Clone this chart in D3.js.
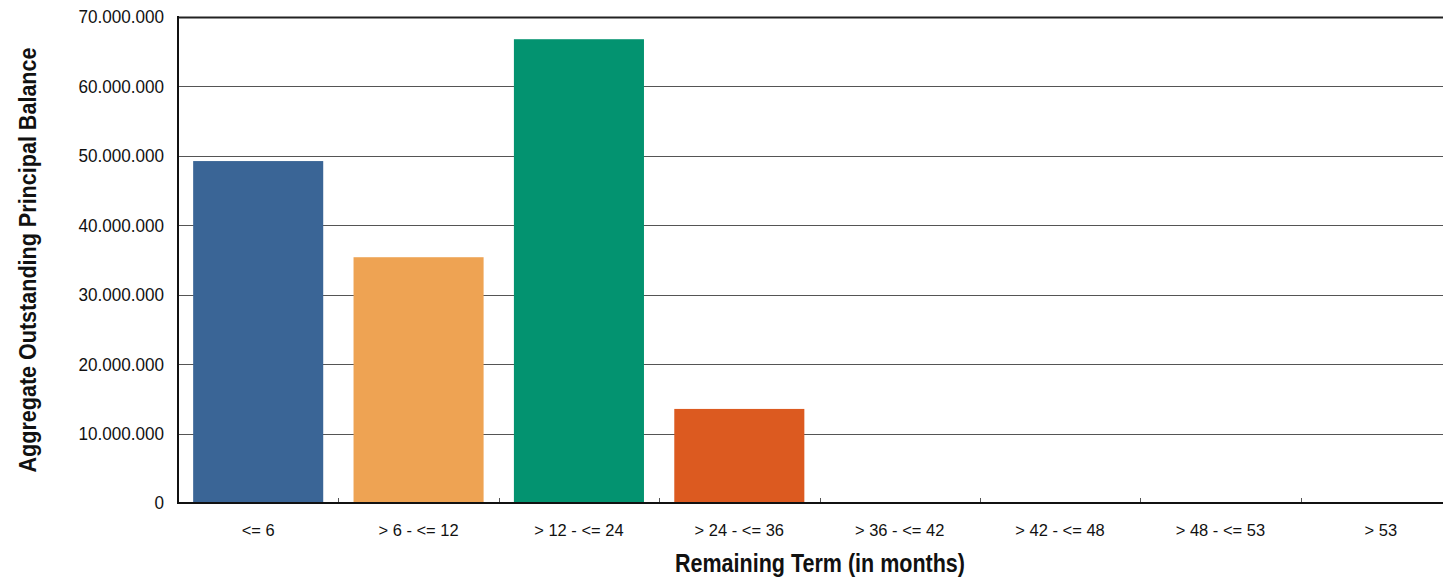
<!DOCTYPE html>
<html><head><meta charset="utf-8">
<script src="https://cdn.jsdelivr.net/npm/d3@7"></script>
<style>body{margin:0;background:#fff}svg{display:block}</style>
</head><body>
<svg id="c" width="1443" height="578"></svg>
<script>
const categories = ["<= 6", "> 6 - <= 12", "> 12 - <= 24", "> 24 - <= 36", "> 36 - <= 42", "> 42 - <= 48", "> 48 - <= 53", "> 53"];
const values = [49250000, 35400000, 66800000, 13550000, 0, 0, 0, 0];
const colors = ["#3a6596", "#eea353", "#039370", "#dc5a20", "#3a6596", "#3a6596", "#3a6596", "#3a6596"];
const yTicks = [0, 10000000, 20000000, 30000000, 40000000, 50000000, 60000000, 70000000];
const xTitle = "Remaining Term (in months)";
const yTitle = "Aggregate Outstanding Principal Balance";

const svg = d3.select("#c");
const m = {l: 178, r: 1461, t: 17, b: 503};
const xb = d3.scaleBand().domain(categories).range([m.l, m.r]);
const x = d3.scaleBand().domain(categories).range([m.l, m.r]).paddingInner(0.189).paddingOuter(0.0945);
const y = d3.scaleLinear().domain([0, 70000000]).range([m.b, m.t]);
const fmt = v => v === 0 ? "0" : d3.format(",")(v).replace(/,/g, ".");
const font = "Liberation Sans, Arial, sans-serif";

function squeeze(sel, f) {
  sel.each(function() { const w = this.getComputedTextLength(); d3.select(this).attr("textLength", w * f).attr("lengthAdjust", "spacingAndGlyphs"); });
}

// grid
svg.append("g").selectAll("line").data(yTicks.filter(d => d > 0)).join("line")
  .attr("x1", m.l).attr("x2", m.r)
  .attr("y1", d => Math.round(y(d)) + 0.5).attr("y2", d => Math.round(y(d)) + 0.5)
  .attr("stroke", d => d === 70000000 ? "#222" : "#555").attr("stroke-width", d => d === 70000000 ? 2 : 1);

// bars
svg.append("g").selectAll("rect").data(categories).join("rect")
  .attr("x", d => x(d)).attr("width", x.bandwidth())
  .attr("y", (d, i) => y(values[i])).attr("height", (d, i) => y(0) - y(values[i]))
  .attr("fill", (d, i) => colors[i]);

// y axis labels
svg.append("g").selectAll("text").data(yTicks).join("text")
  .attr("x", 164).attr("y", d => y(d)).attr("dy", "0.36em")
  .attr("text-anchor", "end").attr("font-family", font)
  .attr("font-size", 18).attr("fill", "#111").text(fmt)
  .call(squeeze, 0.95);

// x tick marks (inward)
svg.append("g").selectAll("line").data(categories.slice(1)).join("line")
  .attr("x1", d => Math.round(xb(d)) + 0.5).attr("x2", d => Math.round(xb(d)) + 0.5)
  .attr("y1", m.b).attr("y2", m.b - 5).attr("stroke", "#555").attr("stroke-width", 1);

// axes lines
svg.append("line").attr("x1", m.l).attr("x2", m.r).attr("y1", m.b).attr("y2", m.b).attr("stroke", "#111").attr("stroke-width", 2);
svg.append("line").attr("x1", m.l).attr("x2", m.l).attr("y1", m.t - 1).attr("y2", m.b + 1).attr("stroke", "#111").attr("stroke-width", 2);

// x labels
svg.append("g").selectAll("text").data(categories).join("text")
  .attr("x", d => xb(d) + xb.bandwidth() / 2).attr("y", 536)
  .attr("text-anchor", "middle").attr("font-family", font)
  .attr("font-size", 17).attr("fill", "#111").text(d => d)
  .call(squeeze, 0.97);

// titles
svg.append("text").attr("x", 820).attr("y", 572).attr("text-anchor", "middle")
  .attr("font-family", font).attr("font-weight", "bold")
  .attr("font-size", 25).attr("fill", "#111").attr("textLength", 290).attr("lengthAdjust", "spacingAndGlyphs").text(xTitle);
svg.append("text").attr("transform", "translate(36,260) rotate(-90)").attr("text-anchor", "middle")
  .attr("font-family", font).attr("font-weight", "bold")
  .attr("font-size", 24).attr("fill", "#111").attr("textLength", 425).attr("lengthAdjust", "spacingAndGlyphs").text(yTitle);
</script>
</body></html>
